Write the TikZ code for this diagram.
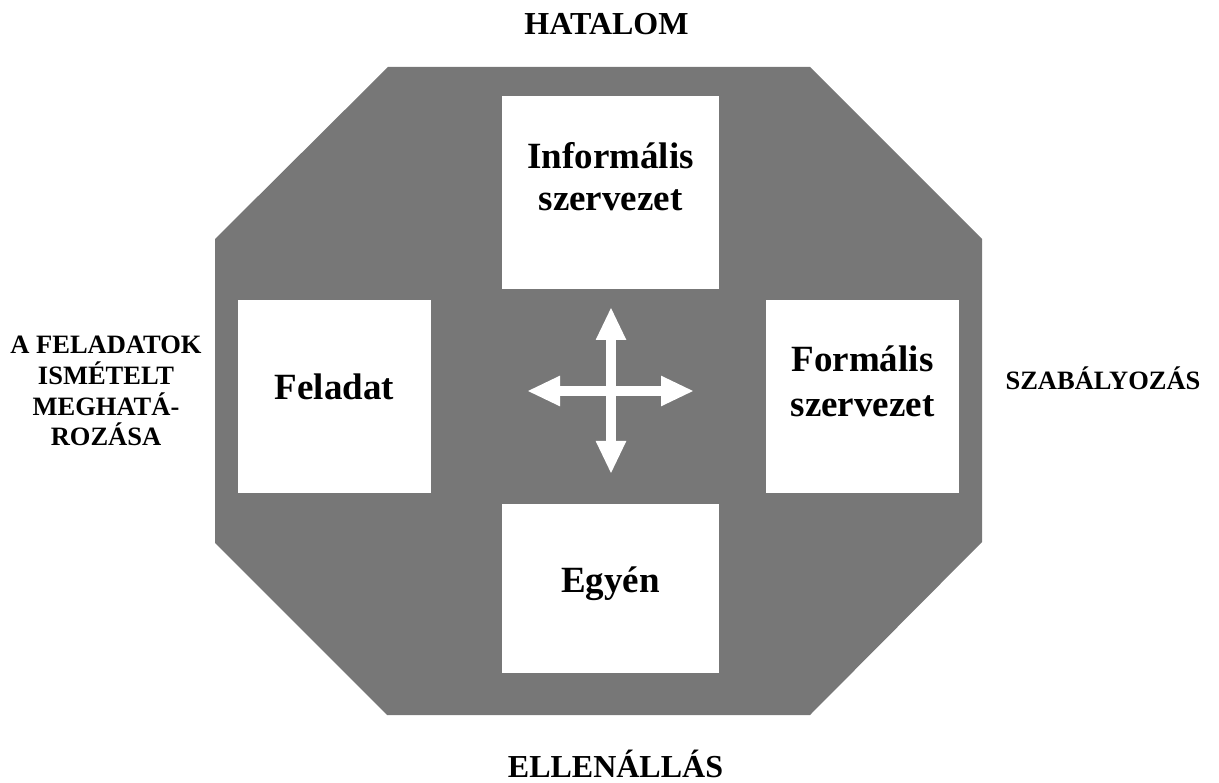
\documentclass[tikz,border=0pt]{standalone}
\usepackage{fontspec}
\setmainfont{Liberation Serif}
\usetikzlibrary{arrows.meta}
\definecolor{octgray}{RGB}{119,119,119}
\begin{document}
\begin{tikzpicture}[x=1pt,y=-1pt,
  whitebox/.style={fill=white,draw=none},
  boxtext/.style={font=\bfseries\fontsize{37}{42.4}\selectfont,align=center,inner sep=0pt},
  sidelabel/.style={font=\bfseries\fontsize{26.5}{30.8}\selectfont,align=center,inner sep=0pt},
  mainlabel/.style={font=\bfseries\fontsize{32}{38}\selectfont,inner sep=0pt},
  crossarrow/.style={draw=white,line width=10pt,{Triangle[width=28pt,length=33pt]}-{Triangle[width=28pt,length=33pt]}}]
\useasboundingbox (0,0) rectangle (1219,783);
% octagon
\fill[octgray] (388,67) -- (810,67) -- (982,239) -- (982,542) -- (810,715) -- (387,715) -- (215,543) -- (215,239) -- cycle;
% boxes
\fill[whitebox] (502,96) rectangle (719,289);
\fill[whitebox] (238,300) rectangle (431,493);
\fill[whitebox] (766,300) rectangle (959,493);
\fill[whitebox] (502,504) rectangle (719,673);
% box texts (base anchor = baseline of last line)
\node[boxtext,anchor=base] (inf) at (610.5,210.7) {Informális\\szervezet};
\node[boxtext,anchor=base] (fel) at (334.5,400) {Feladat};
\node[boxtext,anchor=base,font=\bfseries\fontsize{37}{45}\selectfont] (form) at (862.5,416.7) {Formális\\szervezet};
\node[boxtext,anchor=base] (egy) at (610.5,592) {Egyén};
% outer labels
\node[mainlabel,anchor=base] (hat) at (606.5,35) {HATALOM};
\node[mainlabel,anchor=base] (ell) at (615.5,777) {ELLENÁLLÁS};
\node[sidelabel,anchor=base] (szab) at (1103,390) {SZABÁLYOZÁS};
\node[sidelabel,anchor=base] (fela) at (106,446) {A FELADATOK\\ISMÉTELT\\MEGHATÁ-\\ROZÁSA};
% cross arrows
\coordinate (aup) at (611,307);
\coordinate (adown) at (611,474);
\coordinate (aleft) at (527,391);
\coordinate (aright) at (694,391);
\draw[crossarrow] (aup) -- (adown);
\draw[crossarrow] (aleft) -- (aright);
\end{tikzpicture}
\end{document}
